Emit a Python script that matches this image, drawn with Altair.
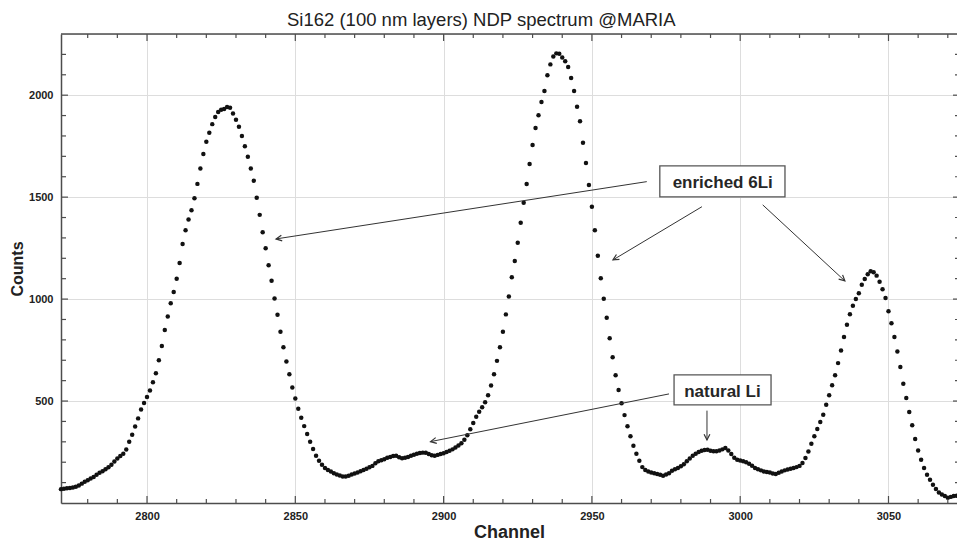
import math
import altair as alt
import pandas as pd

# ---------------- data ----------------
first_channel = 2771
counts = [
    68, 70, 72, 74, 76, 80, 86, 95, 104,                      # 2771-2779
    112, 120, 128, 138, 148, 156, 165, 175, 188, 204,         # 2780
    218, 230, 242, 262, 300, 335, 375, 415, 458, 490,         # 2790
    520, 552, 592, 636, 700, 770, 848, 915, 980, 1035,        # 2800
    1100, 1177, 1270, 1338, 1390, 1436, 1495, 1565, 1640, 1712,  # 2810
    1772, 1816, 1858, 1893, 1918, 1928, 1932, 1942, 1938, 1910,  # 2820
    1880, 1845, 1800, 1750, 1698, 1640, 1580, 1497, 1413, 1328,  # 2830
    1249, 1166, 1090, 1003, 923, 840, 764, 694, 631, 566,     # 2840
    512, 462, 418, 377, 338, 300, 265, 232, 207, 188,         # 2850
    172, 162, 154, 146, 140, 135, 130, 130, 134, 140,         # 2860
    145, 150, 156, 162, 168, 175, 182, 195, 205, 210,         # 2870
    215, 222, 226, 230, 232, 224, 220, 222, 226, 232,         # 2880
    237, 241, 245, 247, 246, 240, 234, 232, 236, 240,         # 2890
    244, 250, 256, 263, 272, 282, 293, 310, 332, 362,         # 2900
    392, 423, 448, 470, 494, 528, 576, 631, 697, 764,         # 2910
    840, 925, 1013, 1107, 1187, 1276, 1374, 1472, 1564, 1662,  # 2920
    1756, 1839, 1902, 1966, 2021, 2098, 2151, 2190, 2205, 2203,  # 2930
    2185, 2166, 2138, 2084, 2021, 1943, 1872, 1767, 1667, 1559,  # 2940
    1453, 1338, 1213, 1102, 1002, 908, 808, 715, 627, 554,    # 2950
    489, 431, 376, 327, 281, 242, 207, 176, 162, 155,         # 2960
    150, 146, 142, 138, 134, 140, 146, 158, 165, 172,         # 2970
    180, 190, 205, 218, 232, 242, 250, 256, 260, 261,         # 2980
    256, 254, 254, 258, 263, 270, 258, 240, 222, 212,         # 2990
    208, 205, 200, 193, 183, 172, 165, 160, 155, 152,         # 3000
    150, 145, 142, 148, 155, 160, 164, 168, 172, 176,         # 3010
    182, 196, 221, 253, 291, 327, 363, 397, 433, 482,         # 3020
    528, 577, 626, 686, 748, 814, 874, 926, 967, 1000,        # 3030
    1029, 1070, 1098, 1122, 1136, 1132, 1115, 1085, 1048, 1005,  # 3040
    940, 882, 814, 743, 667, 585, 515, 446, 381, 314,         # 3050
    258, 212, 172, 139, 114, 90, 69, 52, 42, 34,              # 3060
    26, 30, 34, 36,                                           # 3070-3073
]
channels = [first_channel + i for i in range(len(counts))]

x_major = [2800, 2850, 2900, 2950, 3000, 3050]
y_major = [500, 1000, 1500, 2000]
x_minor = [c for c in range(2780, 3071, 10) if c % 50]
y_minor = [v for v in range(100, 2300, 100) if v % 500]

# annotations (data coordinates)
arrow_c0 = [2968.5, 2987.1, 3007.6, 2976.0, 2988.8]
arrow_v0 = [1576, 1453, 1462, 535, 453]
arrow_c1 = [2843.5, 2957.1, 3035.3, 2895.6, 2988.8]
arrow_v1 = [1295, 1192, 1089, 301, 309]

box_labels = ["enriched 6Li", "natural Li"]
box_c0 = [2972.9, 2977.7]
box_c1 = [3015.1, 3010.4]
box_v0 = [1501, 481]
box_v1 = [1653, 628]
label_c = [2994.1, 2994.0]
label_v = [1543, 521]

# ---------------- chart ----------------
W, H = 896, 469
X_DOMAIN = [2771, 3073.1]
Y_DOMAIN = [0, 2300]
FRAME = "#4d4d4d"
FONT = "Liberation Sans"

xscale = alt.Scale(domain=X_DOMAIN, nice=False, zero=False)
yscale = alt.Scale(domain=Y_DOMAIN, nice=False, zero=False)

xaxis = alt.Axis(values=x_major, grid=True, ticks=False, domainColor=FRAME,
                 domainWidth=1.5, labelFont=FONT, labelFontSize=11,
                 labelFontWeight="bold", labelColor="#222", labelPadding=7,
                 title="Channel", titleFont=FONT, titleFontSize=18,
                 titleFontWeight="bold", titleColor="#222", titlePadding=2,
                 format="d")
yaxis = alt.Axis(values=y_major, grid=True, ticks=False, domainColor=FRAME,
                 domainWidth=1.5, labelFont=FONT, labelFontSize=11,
                 labelFontWeight="bold", labelColor="#222", labelPadding=8,
                 title="Counts", titleFont=FONT, titleFontSize=16,
                 titleFontWeight="bold", titleColor="#222", titlePadding=3,
                 format="d")

X = alt.X("c:Q", scale=xscale, axis=xaxis)
Y = alt.Y("v:Q", scale=yscale, axis=yaxis)

spec_df = pd.DataFrame({"c": channels, "v": counts})
points = alt.Chart(spec_df).mark_circle(size=20, color="#111", opacity=1).encode(x=X, y=Y)

xmin_df = pd.DataFrame({"c": x_minor})
xmaj_df = pd.DataFrame({"c": x_major})
ymin_df = pd.DataFrame({"v": y_minor})
ymaj_df = pd.DataFrame({"v": y_major})

def xticks(df, y0, y1):
    return alt.Chart(df).mark_rule(color=FRAME, strokeWidth=1.2).encode(
        x=X, y=alt.value(y0), y2=alt.value(y1))

def yticks(df, x0, x1):
    return alt.Chart(df).mark_rule(color=FRAME, strokeWidth=1.2).encode(
        y=Y, x=alt.value(x0), x2=alt.value(x1))

ticks = [
    xticks(xmin_df, H, H - 4), xticks(xmaj_df, H, H - 7),
    xticks(xmin_df, 0, 4), xticks(xmaj_df, 0, 7),
    yticks(ymin_df, 0, 5), yticks(ymaj_df, 0, 7),
    yticks(ymin_df, W - 2, W), yticks(ymaj_df, W - 4, W),
]

top_frame = alt.Chart(pd.DataFrame({"c": [X_DOMAIN[0]]})).mark_rule(
    color=FRAME, strokeWidth=1.5).encode(x=alt.value(0), x2=alt.value(W), y=alt.value(0))

# arrows
kx = W / (X_DOMAIN[1] - X_DOMAIN[0])
ky = H / (Y_DOMAIN[1] - Y_DOMAIN[0])
angles = []
for a, b, c, d in zip(arrow_c0, arrow_v0, arrow_c1, arrow_v1):
    dx = (c - a) * kx
    dy = -(d - b) * ky
    angles.append(math.degrees(math.atan2(dy, dx)) % 360)

arrow_df = pd.DataFrame({"c": arrow_c0, "v": arrow_v0, "c2": arrow_c1,
                         "v2": arrow_v1})
head_df = pd.DataFrame({"c": arrow_c1, "v": arrow_v1, "ang": angles})

arrow_lines = alt.Chart(arrow_df).mark_rule(color="#333", strokeWidth=1).encode(
    x=X, y=Y, x2="c2:Q", y2="v2:Q")
arrow_heads = alt.Chart(head_df).mark_point(
    shape="M -1.5 -0.75 L 0 0 L -1.5 0.75", filled=False, color="#333",
    strokeWidth=1.2, size=60, opacity=1).encode(
    x=X, y=Y, angle=alt.Angle("ang:Q", scale=None))

box_df = pd.DataFrame({"c": box_c0, "c2": box_c1, "v": box_v0, "v2": box_v1})
boxes = alt.Chart(box_df).mark_rect(fill="white", stroke="#555",
                                    strokeWidth=1.3).encode(
    x=X, x2="c2:Q", y=Y, y2="v2:Q")

lab_df = pd.DataFrame({"c": label_c, "v": label_v, "t": box_labels})
labels = alt.Chart(lab_df).mark_text(font=FONT, fontSize=17, fontWeight="bold",
                                     color="#262626", align="center",
                                     baseline="alphabetic").encode(
    x=X, y=Y, text="t:N")

chart = alt.layer(
    points, *ticks, top_frame, arrow_lines, arrow_heads, boxes, labels
).properties(
    width=W, height=H,
    title=alt.TitleParams("Si162 (100 nm layers) NDP spectrum @MARIA",
                          anchor="start", frame="group", dx=226, dy=21,
                          offset=10, font=FONT, fontSize=18.5,
                          fontWeight="normal", color="#222",
                          baseline="alphabetic"),
    autosize=alt.AutoSizeParams(type="none"),
    padding={"left": 61, "top": 34, "right": 0, "bottom": 40},
).configure_view(stroke=None).configure(background="white")

chart.save("out.html", embed_options={"renderer": "svg", "actions": False})
